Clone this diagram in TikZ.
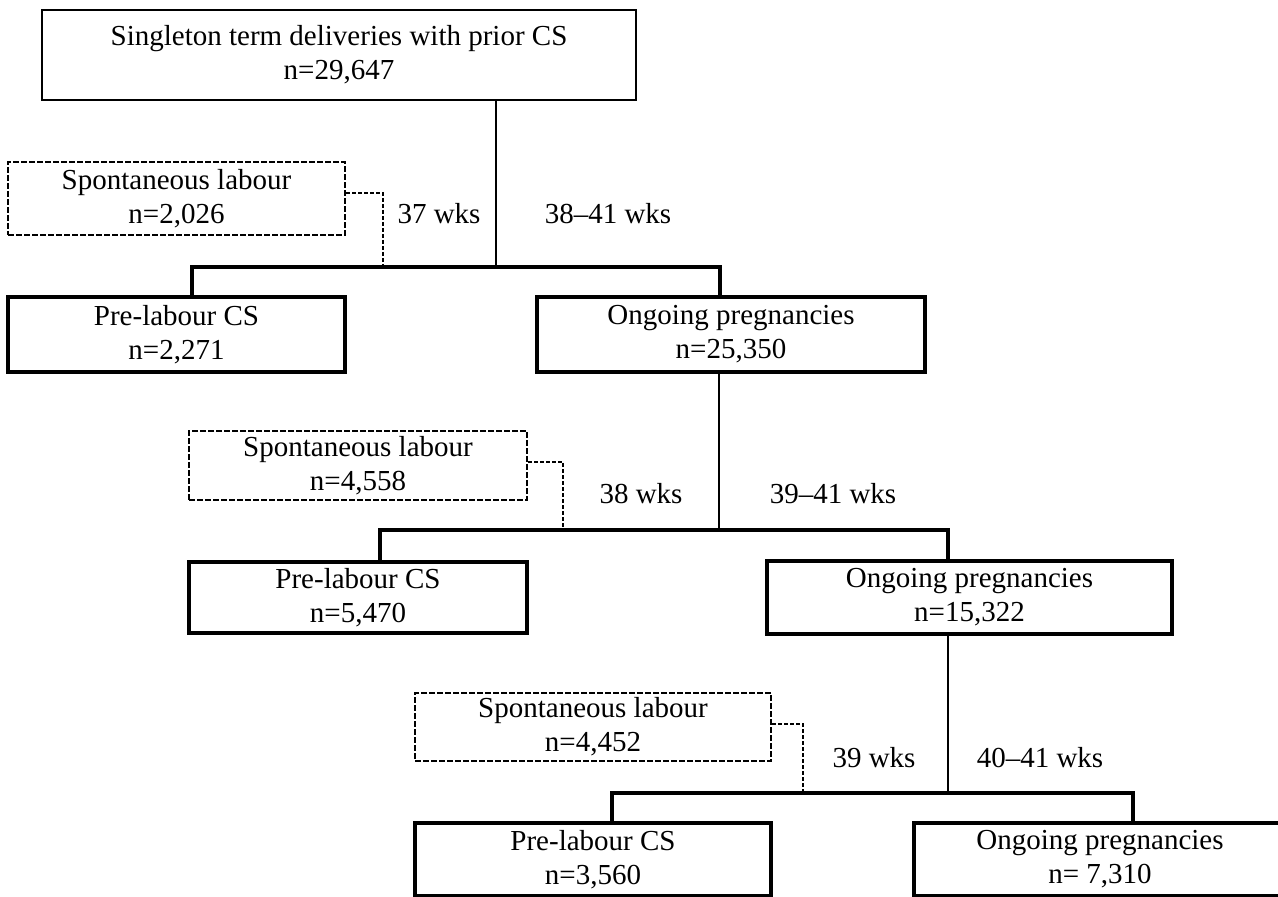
\documentclass[tikz,border=0pt]{standalone}
\usepackage{fontspec}
\setmainfont{Liberation Serif}
\usetikzlibrary{positioning}

\tikzset{
	box/.style={draw, line width=1.8pt, align=center, inner sep=0pt,
		font=\fontsize{14.5}{17}\selectfont},
	startbox/.style={box, line width=1pt},
	spontbox/.style={box, line width=1pt, dash pattern=on 3pt off 1pt},
	trunk/.style={line width=0.85pt},
	bus/.style={line width=1.7pt},
	spontline/.style={line width=0.75pt, dash pattern=on 2pt off 1pt},
	wks/.style={inner sep=0pt, font=\fontsize{14.5}{17}\selectfont}
}

\begin{document}
\begin{tikzpicture}[x=0.5pt, y=-0.5pt]
	\useasboundingbox (0,0) rectangle (1278,897);

	% Define nodes
	\node[startbox, minimum width=297pt, minimum height=45pt] (start) at (339,55)
		{Singleton term deliveries with prior CS\\n=29,647};

	\node[spontbox, minimum width=168.5pt, minimum height=36.5pt] (spont1) at (176.5,198.5)
		{Spontaneous labour\\n=2,026};
	\node[box, minimum width=168.5pt, minimum height=37.5pt] (pre1) at (176.5,334.5)
		{Pre-labour CS\\n=2,271};
	\node[box, minimum width=194pt, minimum height=37.5pt] (ong1) at (731,334.5)
		{Ongoing pregnancies\\n=25,350};

	\node[spontbox, minimum width=169pt, minimum height=34.5pt] (spont2) at (358,465.5)
		{Spontaneous labour\\n=4,558};
	\node[box, minimum width=169pt, minimum height=35.5pt] (pre2) at (358,597.5)
		{Pre-labour CS\\n=5,470};
	\node[box, minimum width=202.5pt, minimum height=36.5pt] (ong2) at (969.5,597.5)
		{Ongoing pregnancies\\n=15,322};

	\node[spontbox, minimum width=178pt, minimum height=34pt] (spont3) at (593,727)
		{Spontaneous labour\\n=4,452};
	\node[box, minimum width=178pt, minimum height=36.5pt] (pre3) at (593,859.5)
		{Pre-labour CS\\n=3,560};
	\node[box, minimum width=186pt, minimum height=36.5pt] (ong3) at (1100,859.5)
		{Ongoing pregnancies\\n= 7,310};

	\node[wks] (w37) at (439,214) {37 wks};
	\node[wks] (w38to41) at (608,214) {38--41 wks};
	\node[wks] (w38) at (641,494) {38 wks};
	\node[wks] (w39to41) at (833,494) {39--41 wks};
	\node[wks] (w39) at (874,758) {39 wks};
	\node[wks] (w40to41) at (1040,758) {40--41 wks};

	% Branch points
	\coordinate (j1) at (496,267);
	\coordinate (b1l) at (192,267);
	\coordinate (b1r) at (720,267);
	\coordinate (d1) at (383,193);

	\coordinate (j2) at (719,530);
	\coordinate (b2l) at (380,530);
	\coordinate (b2r) at (948,530);
	\coordinate (d2) at (563,462);

	\coordinate (j3) at (948,793);
	\coordinate (b3l) at (612,793);
	\coordinate (b3r) at (1133,793);
	\coordinate (d3) at (803,724);

	% Connect the nodes
	\draw[trunk] (start.south -| j1) -- (j1);
	\draw[bus] (pre1.north -| b1l) -- (b1l) -- (b1r) -- (ong1.north -| b1r);
	\draw[spontline] (spont1.east |- d1) -- (d1) -- (d1 |- j1);

	\draw[trunk] (ong1.south -| j2) -- (j2);
	\draw[bus] (pre2.north -| b2l) -- (b2l) -- (b2r) -- (ong2.north -| b2r);
	\draw[spontline] (spont2.east |- d2) -- (d2) -- (d2 |- j2);

	\draw[trunk] (ong2.south -| j3) -- (j3);
	\draw[bus] (pre3.north -| b3l) -- (b3l) -- (b3r) -- (ong3.north -| b3r);
	\draw[spontline] (spont3.east |- d3) -- (d3) -- (d3 |- j3);
\end{tikzpicture}
\end{document}
